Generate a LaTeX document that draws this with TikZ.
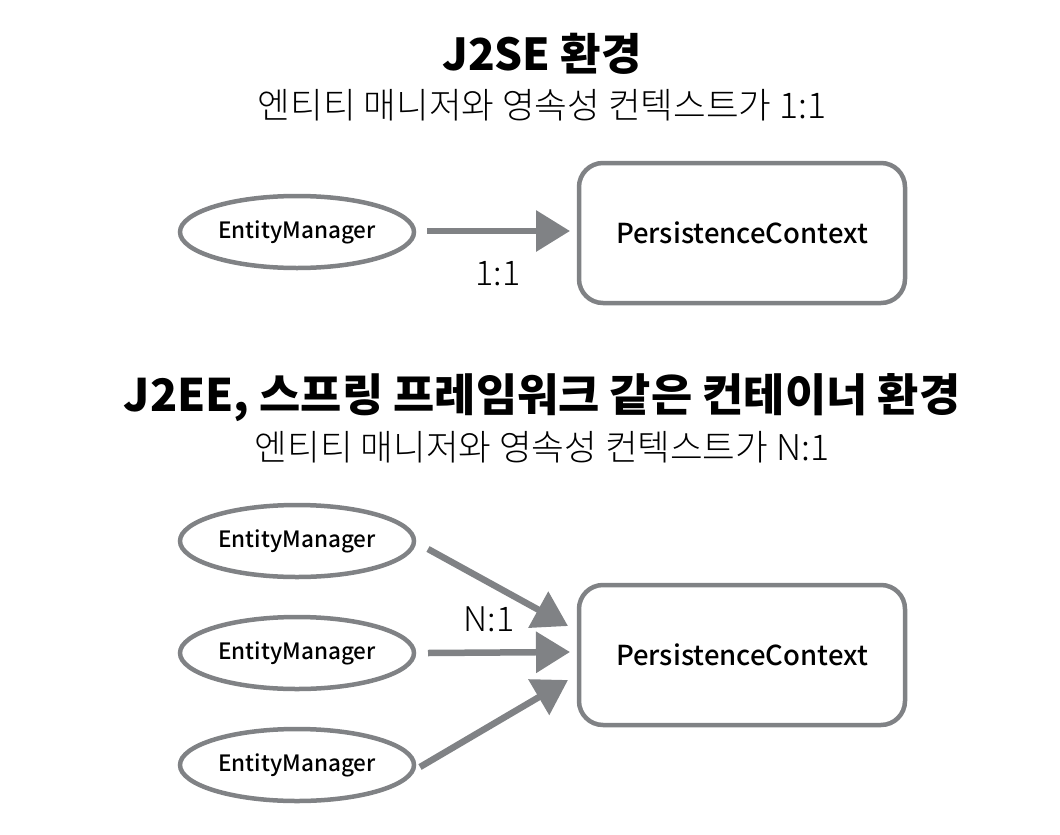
\documentclass[tikz,border=0pt]{standalone}
\usepackage{fontspec}
\setmainfont{Noto Sans CJK KR}
\newfontfamily\lightfam{Noto Sans CJK KR Light}
\newfontfamily\medfam{Noto Sans CJK KR Medium}
\usetikzlibrary{shapes.geometric,arrows.meta}
\definecolor{sk}{HTML}{808285}
\tikzset{
  em/.style={ellipse,draw=sk,line width=4.5pt,minimum width=234pt,minimum height=72pt,inner sep=0pt,font=\medfam\fontsize{22.5}{26}\selectfont},
  pc/.style={rectangle,rounded corners=24pt,draw=sk,line width=4.5pt,minimum width=326pt,minimum height=140pt,inner sep=0pt,font=\medfam\fontsize{27.5}{31}\selectfont},
  arr/.style={draw=sk,line width=6.5pt,-{Triangle[length=34pt,width=40pt]}},
  ttl/.style={font=\fontsize{44}{48}\selectfont\bfseries},
  ttlb/.style={font=\fontsize{44.8}{48}\selectfont\bfseries},
  sub/.style={font=\lightfam\fontsize{35.5}{40}\selectfont},
  lbl/.style={font=\lightfam\fontsize{34}{38}\selectfont}
}
\begin{document}
\begin{tikzpicture}[x=1pt,y=-1pt]
\useasboundingbox (0,0) rectangle (1060,835);
\node[ttl] (t1) at (542,54) {J2SE 환경};
\node[sub] (s1) at (542,105) {엔티티 매니저와 영속성 컨텍스트가 1:1};
\node[em] (e1) at (297,232) {EntityManager};
\node[pc] (p1) at (742,233) {PersistenceContext};
\coordinate (a1s) at (427,231);
\coordinate (a1e) at (570,231);
\draw[arr] (a1s) -- (a1e);
\node[lbl] (l1) at (498,274) {1:1};

\node[ttlb] (t2) at (542,398) {J2EE, 스프링 프레임워크 같은 컨테이너 환경};
\node[sub] (s2) at (542,447) {엔티티 매니저와 영속성 컨텍스트가 N:1};
\node[em] (e2) at (297,541) {EntityManager};
\node[em] (e3) at (297,653) {EntityManager};
\node[em] (e4) at (297,765) {EntityManager};
\node[pc] (p2) at (742,655) {PersistenceContext};
\coordinate (b1s) at (428,549);
\coordinate (b1e) at (568,626);
\coordinate (b2s) at (428,653);
\coordinate (b2e) at (570,652);
\coordinate (b3s) at (420,767);
\coordinate (b3e) at (568,680);
\draw[arr] (b1s) -- (b1e);
\draw[arr] (b2s) -- (b2e);
\draw[arr] (b3s) -- (b3e);
\node[lbl] (l2) at (489,619) {N:1};
\end{tikzpicture}
\end{document}
